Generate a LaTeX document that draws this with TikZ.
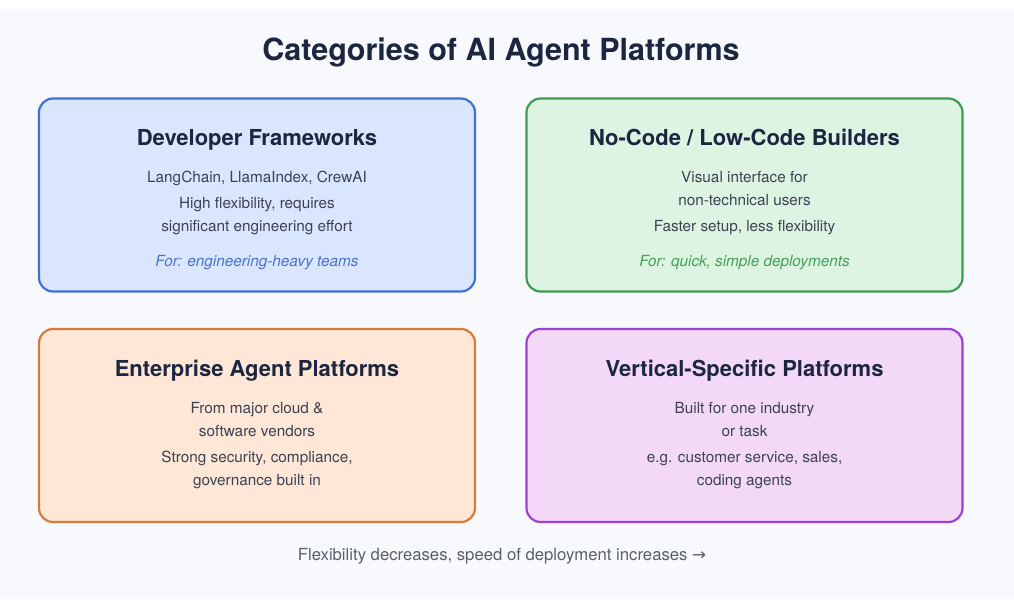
\documentclass[tikz,border=0pt]{standalone}
\usepackage{fontspec}
\setmainfont{TeX Gyre Heros}
\newfontfamily\arrowfont{DejaVu Sans}
\usetikzlibrary{positioning}
\definecolor{pagebg}{HTML}{F8F9FC}
\definecolor{ink}{HTML}{1C2640}
\definecolor{bodytext}{HTML}{3B4252}
\definecolor{notetext}{HTML}{5A5F6B}
\definecolor{devline}{HTML}{3F72D6}
\definecolor{devfill}{HTML}{DAE6FD}
\definecolor{devnote}{HTML}{4A74C9}
\definecolor{nocodeline}{HTML}{3F9B55}
\definecolor{nocodefill}{HTML}{DDF4E3}
\definecolor{nocodenote}{HTML}{46A058}
\definecolor{entline}{HTML}{D77B3B}
\definecolor{entfill}{HTML}{FEE7D6}
\definecolor{vertline}{HTML}{9D40D4}
\definecolor{vertfill}{HTML}{F3D9F7}

\begin{document}
\begin{tikzpicture}[x=1pt,y=-1pt,
    card/.style={draw, line width=2.2pt, rounded corners=14pt,
      minimum width=436pt, minimum height=193pt, inner sep=0pt},
    cardtitle/.style={font=\bfseries\fontsize{22}{26}\selectfont, text=ink,
      text height=23pt, text depth=4.2pt, inner sep=0pt},
    cardline/.style={font=\fontsize{15.3}{18}\selectfont, text=bodytext,
      text height=13pt, text depth=2pt, inner sep=0pt},
    cardnote/.style={cardline, font=\itshape\fontsize{15.3}{18}\selectfont}]
  \useasboundingbox (0,0) rectangle (1014,612);
  \fill[pagebg] (0,9) rectangle (1014,599);

  \node[font=\bfseries\fontsize{30.5}{36}\selectfont, text=ink,
    text height=26pt, text depth=4pt, inner sep=0pt] (title) at (501,50) {Categories of AI Agent Platforms};

  % the four categories
  \node[card, draw=devline, fill=devfill] (dev) at (257,195) {};
  \node[card, draw=nocodeline, fill=nocodefill] (nocode) at (744.5,195) {};
  \node[card, draw=entline, fill=entfill] (ent) at (257,425.5) {};
  \node[card, draw=vertline, fill=vertfill] (vert) at (744.5,425.5) {};

  % Developer Frameworks
  \node[cardtitle] (devtitle) at (257,135.8) {Developer Frameworks};
  \node[cardline] (deva) at (257,177) {LangChain, LlamaIndex, CrewAI};
  \node[cardline] (devb) at (257,203) {High flexibility, requires};
  \node[cardline] (devc) at (257,226) {significant engineering effort};
  \node[cardnote, text=devnote] (devnote) at (257,261) {For: engineering-heavy teams};

  % No-Code / Low-Code Builders
  \node[cardtitle] (nocodetitle) at (744.5,135.8) {No-Code / Low-Code Builders};
  \node[cardline] (nocodea) at (744.5,177) {Visual interface for};
  \node[cardline] (nocodeb) at (744.5,200) {non-technical users};
  \node[cardline] (nocodec) at (744.5,226) {Faster setup, less flexibility};
  \node[cardnote, text=nocodenote] (nocodenote) at (744.5,261) {For: quick, simple deployments};

  % Enterprise Agent Platforms
  \node[cardtitle] (enttitle) at (257,366.8) {Enterprise Agent Platforms};
  \node[cardline] (enta) at (257,408) {From major cloud \&};
  \node[cardline] (entb) at (257,431) {software vendors};
  \node[cardline] (entc) at (257,457) {Strong security, compliance,};
  \node[cardline] (entd) at (257,480) {governance built in};

  % Vertical-Specific Platforms
  \node[cardtitle] (verttitle) at (744.5,366.8) {Vertical-Specific Platforms};
  \node[cardline] (verta) at (744.5,408) {Built for one industry};
  \node[cardline] (vertb) at (744.5,431) {or task};
  \node[cardline] (vertc) at (744.5,457) {e.g. customer service, sales,};
  \node[cardline] (vertd) at (744.5,480) {coding agents};

  \node[font=\fontsize{16.7}{20}\selectfont, text=notetext,
    text height=14.5pt, text depth=2pt, inner sep=0pt] (trend) at (502,554) {Flexibility decreases, speed of deployment increases {\arrowfont →}};
\end{tikzpicture}
\end{document}
